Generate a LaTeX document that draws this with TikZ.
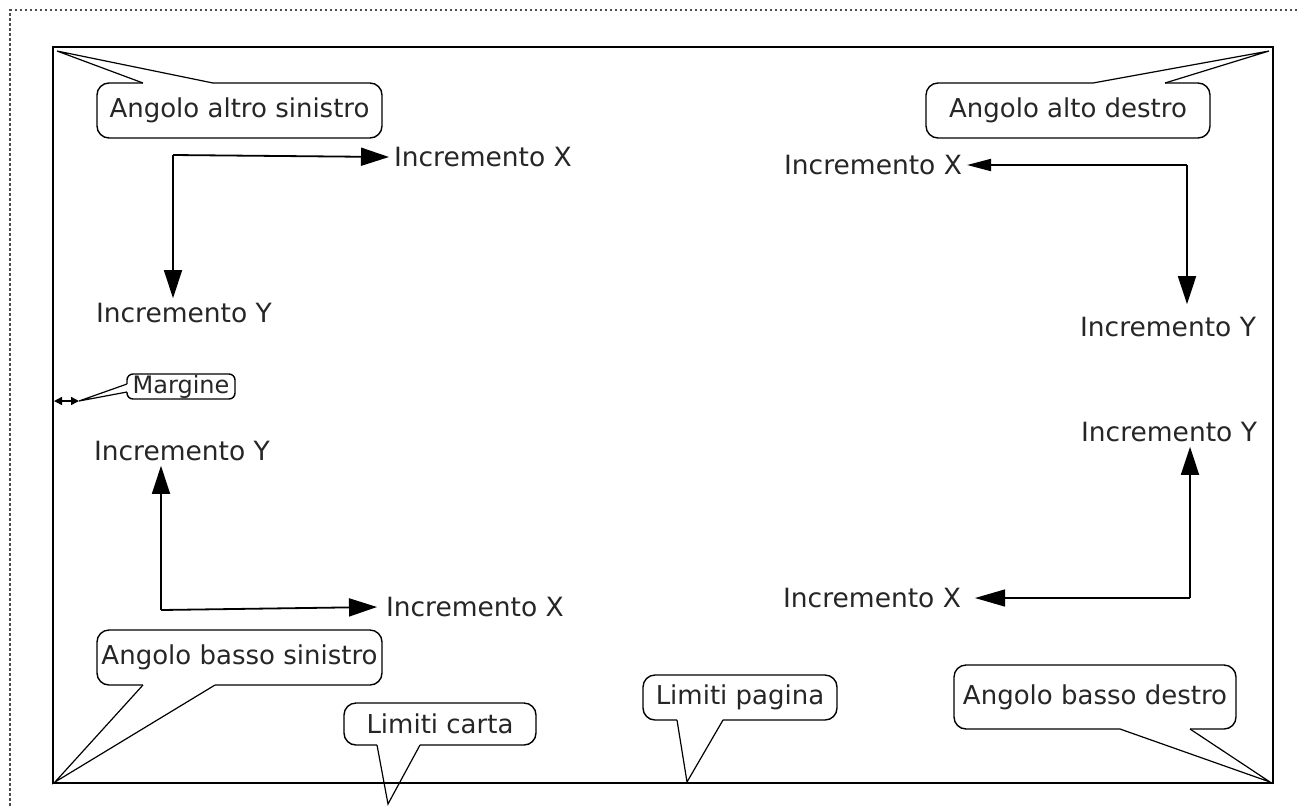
\documentclass[tikz,border=0pt]{standalone}
\usepackage{fontspec}
\setmainfont{DejaVu Sans}
\usetikzlibrary{arrows.meta,calc}
\begin{document}
\begin{tikzpicture}[x=1pt,y=-1pt,
  txt/.style={inner sep=0pt, outer sep=5pt, font=\fontsize{26.5}{30}\selectfont, text=black!85},
  callout/.style={draw, line width=1.4pt, rounded corners=12pt, inner sep=0pt, font=\fontsize{26}{30}\selectfont, text=black!85},
  arr/.style={line width=1.8pt, -{Triangle[length=28pt,width=18pt]}},
  tail/.style={line width=1.2pt},
  cover/.style={fill=white},
]
\useasboundingbox (0,0) rectangle (1297,807);
% outer dotted page border
\coordinate (p0) at (10,10);
\coordinate (p1) at (1297,10);
\coordinate (p2) at (10,807);
\draw[black!70, line width=1.3pt, dash pattern=on 2.5pt off 2.5pt] (p1) -- (p0) -- (p2);
% paper rectangle
\draw[line width=2pt] (53,47) rectangle (1273,783);

% --- top-left axes
\coordinate (c1) at (173,155);
\node[txt, anchor=west] (ix1) at (389,157) {Incremento X};
\node[txt, anchor=west] (iy1) at (91,313) {Incremento Y};
\draw[arr] (c1) -- (ix1.west);
\draw[arr] (c1) -- (c1 |- iy1.north);

% --- top-right axes
\coordinate (c2) at (1187,165);
\node[txt, anchor=east] (ix2) at (967,165) {Incremento X};
\node[txt, anchor=east, outer sep=13pt] (iy2) at (1269,327) {Incremento Y};
\draw[line width=1.8pt, -{Triangle[length=24pt,width=12pt]}] (c2) -- (ix2.east);
\draw[arr] (c2) -- (c2 |- iy2.north);

% --- bottom-right axes
\coordinate (c3) at (1190,598);
\node[txt, anchor=east] (iy3) at (1262,432) {Incremento Y};
\node[txt, anchor=east, outer sep=14pt] (ix3) at (975,598) {Incremento X};
\draw[arr] (c3) -- (c3 |- iy3.south);
\draw[line width=1.3pt, -{Triangle[length=30pt,width=17pt]}] (c3) -- (ix3.east);

% --- bottom-left axes
\coordinate (c4) at (161,610);
\node[txt, anchor=west] (iy4) at (89,451) {Incremento Y};
\node[txt, anchor=west, outer sep=9pt] (ix4) at (377,607) {Incremento X};
\draw[arr] (c4) -- (c4 |- iy4.south);
\draw[arr] (c4) -- (ix4.west);

% --- callout: Angolo altro sinistro
\node[callout, minimum width=285pt, minimum height=55pt] (cb1) at (239.5,110.5) {Angolo altro sinistro};
\coordinate (t1) at (57,51);
\coordinate (a1) at (143,83);
\coordinate (b1) at (213,83);
\fill[cover] ($(a1)+(0,-2)$) rectangle ($(b1)+(0,2)$);
\draw[tail] (a1) -- (t1) -- (b1);

% --- callout: Angolo alto destro
\node[callout, minimum width=284pt, minimum height=55pt] (cb2) at (1068,110.5) {Angolo alto destro};
\coordinate (t2) at (1269,51);
\coordinate (a2) at (1093,83);
\coordinate (b2) at (1165,83);
\fill[cover] ($(a2)+(0,-2)$) rectangle ($(b2)+(0,2)$);
\draw[tail] (a2) -- (t2) -- (b2);

% --- callout: Margine
\node[callout, rounded corners=6pt, minimum width=108pt, minimum height=25pt, font=\fontsize{24}{28}\selectfont] (cb3) at (181,386.5) {Margine};
\coordinate (t3) at (79,401);
\coordinate (a3) at (127,384);
\coordinate (b3) at (127,392);
\fill[cover] ($(a3)+(-2,0)$) rectangle ($(b3)+(2,0)$);
\draw[tail] (a3) -- (t3) -- (b3);
\coordinate (m0) at (54,401);
\draw[line width=1.5pt, {Triangle[length=8pt,width=8pt]}-{Triangle[length=8pt,width=8pt]}] (m0) -- (t3);

% --- callout: Angolo basso sinistro
\node[callout, minimum width=285pt, minimum height=55pt] (cb4) at (239.5,657.5) {Angolo basso sinistro};
\coordinate (t4) at (55,782);
\coordinate (a4) at (143,685);
\coordinate (b4) at (215,685);
\fill[cover] ($(a4)+(0,-2)$) rectangle ($(b4)+(0,2)$);
\draw[tail] (a4) -- (t4) -- (b4);

% --- callout: Limiti carta
\node[callout, minimum width=192pt, minimum height=42pt] (cb5) at (440,724) {Limiti carta};
\coordinate (t5) at (388,804);
\coordinate (a5) at (377,745);
\coordinate (b5) at (420,745);
\fill[cover] ($(a5)+(0,-2)$) rectangle ($(b5)+(0,2)$);
\draw[tail] (a5) -- (t5) -- (b5);

% --- callout: Limiti pagina
\node[callout, minimum width=194pt, minimum height=45pt] (cb6) at (740,697.5) {Limiti pagina};
\coordinate (t6) at (687,782);
\coordinate (a6) at (677,720);
\coordinate (b6) at (723,720);
\fill[cover] ($(a6)+(0,-2)$) rectangle ($(b6)+(0,2)$);
\draw[tail] (a6) -- (t6) -- (b6);

% --- callout: Angolo basso destro
\node[callout, minimum width=282pt, minimum height=64pt] (cb7) at (1095,697) {Angolo basso destro};
\coordinate (t7) at (1270,782);
\coordinate (a7) at (1120,729);
\coordinate (b7) at (1190,729);
\fill[cover] ($(a7)+(0,-2)$) rectangle ($(b7)+(0,2)$);
\draw[tail] (a7) -- (t7) -- (b7);
\end{tikzpicture}
\end{document}
